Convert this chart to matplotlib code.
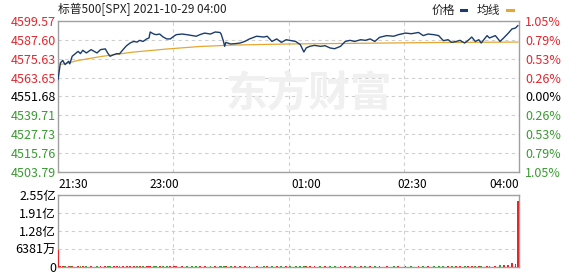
import matplotlib
matplotlib.use("Agg")
import matplotlib.pyplot as plt

plt.rcParams['font.family'] = ['Noto Sans CJK SC', 'DejaVu Sans']

# ---- data ----
title = "标普500[SPX] 2021-10-29 04:00"
prev_close = 4551.68
price_ticks = [4503.79, 4515.76, 4527.73, 4539.71, 4551.68, 4563.65, 4575.63, 4587.60, 4599.57]
pct_labels = ["1.05%", "0.79%", "0.53%", "0.26%", "0.00%", "0.26%", "0.53%", "0.79%", "1.05%"]
time_labels = ["21:30", "23:00", "01:00", "02:30", "04:00"]
time_label_minutes = [0, 90, 210, 300, 390]
grid_minutes = [97.5, 195, 292.5]
session_minutes = 390

minutes = [0, 2, 4, 6, 9, 10, 12, 17, 19, 21, 24, 28, 33, 36, 40, 42, 44, 47, 50, 52,
           55, 58, 61, 64, 67, 69, 72, 75, 77, 78, 81, 83, 86, 89, 92, 95, 98, 100, 105, 109,
           113, 117, 120, 124, 129, 133, 137, 138, 140, 141, 142, 146, 150, 154, 158, 162, 168, 174, 177, 181,
           185, 189, 193, 196, 201, 205, 208, 210, 213, 217, 222, 226, 230, 234, 239, 243, 247, 251, 256, 260,
           264, 268, 272, 278, 284, 288, 294, 299, 305, 309, 313, 318, 322, 326, 330, 333, 337, 340, 344, 347,
           350, 353, 356, 358, 363, 365, 370, 374, 377, 381, 384, 387, 389]
price = [4562.4, 4572.9, 4574.6, 4571.9, 4574.0, 4572.4, 4577.2, 4580.3, 4578.9, 4581.0,
         4579.3, 4581.4, 4579.3, 4581.4, 4581.9, 4579.3, 4577.2, 4578.2, 4578.9, 4578.7,
         4581.4, 4583.9, 4585.6, 4586.6, 4586.2, 4587.3, 4586.6, 4588.2, 4588.8, 4592.6,
         4591.3, 4590.9, 4591.3, 4589.4, 4588.2, 4588.2, 4589.9, 4590.9, 4591.3, 4590.9,
         4590.4, 4589.9, 4590.9, 4591.9, 4591.3, 4592.6, 4592.3, 4591.3, 4586.6, 4583.5,
         4586.0, 4585.0, 4585.2, 4585.6, 4586.6, 4588.2, 4589.9, 4589.4, 4589.9, 4586.6,
         4588.2, 4586.0, 4587.7, 4587.3, 4586.6, 4584.6, 4579.9, 4582.5, 4583.5, 4584.1,
         4583.5, 4583.9, 4582.5, 4582.0, 4583.5, 4586.6, 4587.3, 4586.6, 4587.7, 4587.3,
         4588.2, 4586.6, 4589.2, 4590.3, 4589.9, 4590.9, 4591.9, 4591.5, 4592.3, 4590.3,
         4591.3, 4590.9, 4590.3, 4587.1, 4587.7, 4586.0, 4586.6, 4587.3, 4585.6, 4587.3,
         4589.4, 4586.6, 4587.7, 4585.6, 4590.3, 4588.8, 4590.3, 4586.6, 4588.8, 4591.9,
         4594.5, 4595.1, 4596.6]

avg_minutes = [2, 9, 16, 36, 63, 92, 120, 148, 196, 278, 315, 389]
avg_price = [4572.0, 4573.0, 4574.4, 4577.0, 4579.8, 4581.8, 4583.4, 4584.3, 4585.0, 4585.6, 4585.9, 4586.2]

# volume (万) at the same sample minutes
volume_wan = [5970, 400, 390, 380, 390, 370, 400, 390, 380, 390,
              370, 380, 360, 370, 380, 360, 390, 370, 360, 350,
              370, 380, 390, 370, 360, 380, 370, 360, 380, 420,
              380, 370, 360, 370, 360, 350, 370, 360, 350, 360,
              350, 360, 370, 350, 360, 370, 360, 380, 460, 440,
              400, 380, 370, 360, 370, 360, 350, 360, 370, 380,
              360, 370, 350, 360, 370, 380, 420, 390, 370, 360,
              360, 350, 370, 360, 370, 380, 360, 350, 370, 360,
              360, 370, 380, 360, 370, 360, 380, 370, 360, 370,
              360, 370, 380, 400, 380, 390, 370, 380, 390, 400,
              410, 420, 400, 430, 460, 440, 480, 580, 540, 800,
              1300, 900, 23550]
vol_ticks = [0, 6381e4, 12760e4, 19140e4, 25520e4]
vol_tick_labels = ["0", "6381万", "1.28亿", "1.91亿", "2.55亿"]

# ---- style ----
W, H = 578, 276
RED = '#e0282e'
GREEN = '#3a9a32'
NAVY = '#1b3d6d'
GOLD = '#e3a832'
SPINE = '#a0a0a0'
GRID = '#cfcfcf'

fig = plt.figure(figsize=(W / 100, H / 100), dpi=100)
fig.patch.set_facecolor('white')

L, R = 58, 519
ax = fig.add_axes([L / W, 1 - 172 / H, (R - L) / W, (172 - 21) / H])
axv = fig.add_axes([L / W, 1 - 267 / H, (R - L) / W, (267 - 195) / H])

# watermark
fig.text(309 / W, 1 - 93 / H, "东方财富", fontsize=30, fontweight='bold',
         color='#f0f0f0', ha='center', va='center', zorder=0)
ax.patch.set_alpha(0)

# main price chart
ax.plot(minutes, price, color=NAVY, lw=1.0, zorder=3)
ax.plot(avg_minutes, avg_price, color=GOLD, lw=0.9, zorder=2)
ax.set_xlim(0, session_minutes)
ax.set_ylim(price_ticks[0], price_ticks[-1])
ax.set_yticks(price_ticks)
ax.set_yticklabels([f"{v:.2f}" for v in price_ticks])
for lbl, v in zip(ax.get_yticklabels(), price_ticks):
    if v > prev_close + 0.01:
        lbl.set_color(RED)
    elif v < prev_close - 0.01:
        lbl.set_color(GREEN)
    else:
        lbl.set_color('black')
ax.tick_params(axis='y', length=0, pad=1.5, labelsize=9)
ax.set_xticks(time_label_minutes)
ax.set_xticklabels(time_labels)
ax.set_xticks(grid_minutes, minor=True)
ax.tick_params(axis='x', which='both', length=0, pad=4, labelsize=8.5)
xl = ax.get_xticklabels()
xl[0].set_ha('left')
xl[-1].set_ha('right')
ax.grid(True, axis='y', which='major', color=GRID, lw=0.8, ls=(0, (3, 3)))
ax.grid(True, axis='x', which='minor', color=GRID, lw=0.8, ls=(0, (3, 3)))
for s in ax.spines.values():
    s.set_color(SPINE)
    s.set_linewidth(1.0)

axr = ax.twinx()
axr.set_ylim(ax.get_ylim())
axr.set_yticks(price_ticks)
axr.set_yticklabels(pct_labels)
for lbl, v in zip(axr.get_yticklabels(), price_ticks):
    if v > prev_close + 0.01:
        lbl.set_color(RED)
    elif v < prev_close - 0.01:
        lbl.set_color(GREEN)
    else:
        lbl.set_color('black')
axr.tick_params(axis='y', length=0, pad=4.5, labelsize=9)
for s in axr.spines.values():
    s.set_visible(False)

# volume chart
vol_vals = [v * 1e4 for v in volume_wan]
colors = []
for i, p in enumerate(price):
    if i == 0 or p >= price[i - 1]:
        colors.append(RED)
    else:
        colors.append(GREEN)
axv.bar(minutes, vol_vals, width=1.6, color=colors, align='center', zorder=3)
axv.set_xlim(0, session_minutes)
axv.set_ylim(0, vol_ticks[-1])
axv.set_yticks(vol_ticks)
axv.set_yticklabels(vol_tick_labels)
axv.tick_params(axis='y', length=0, pad=1.5, labelsize=9)
axv.set_xticks([])
axv.set_xticks(grid_minutes, minor=True)
axv.tick_params(axis='x', which='both', length=0, labelbottom=False)
axv.grid(True, axis='y', which='major', color=GRID, lw=0.8, ls=(0, (3, 3)))
axv.grid(True, axis='x', which='minor', color=GRID, lw=0.8, ls=(0, (3, 3)))
for s in axv.spines.values():
    s.set_color(SPINE)
    s.set_linewidth(1.0)

# header
fig.text(58 / W, 1 - 9 / H, title, fontsize=8.5, color='#222222', ha='left', va='center')
fig.text(432 / W, 1 - 10 / H, "价格", fontsize=8.5, color='#222222', ha='left', va='center')
fig.add_artist(plt.Line2D([461 / W, 466 / W], [1 - 10 / H, 1 - 10 / H], color=NAVY, lw=2.2,
                          transform=fig.transFigure))
fig.text(477 / W, 1 - 10 / H, "均线", fontsize=8.5, color='#222222', ha='left', va='center')
fig.add_artist(plt.Line2D([507 / W, 513 / W], [1 - 10 / H, 1 - 10 / H], color=GOLD, lw=2.2,
                          transform=fig.transFigure))

fig.savefig("out.png", dpi=100, facecolor='white')
